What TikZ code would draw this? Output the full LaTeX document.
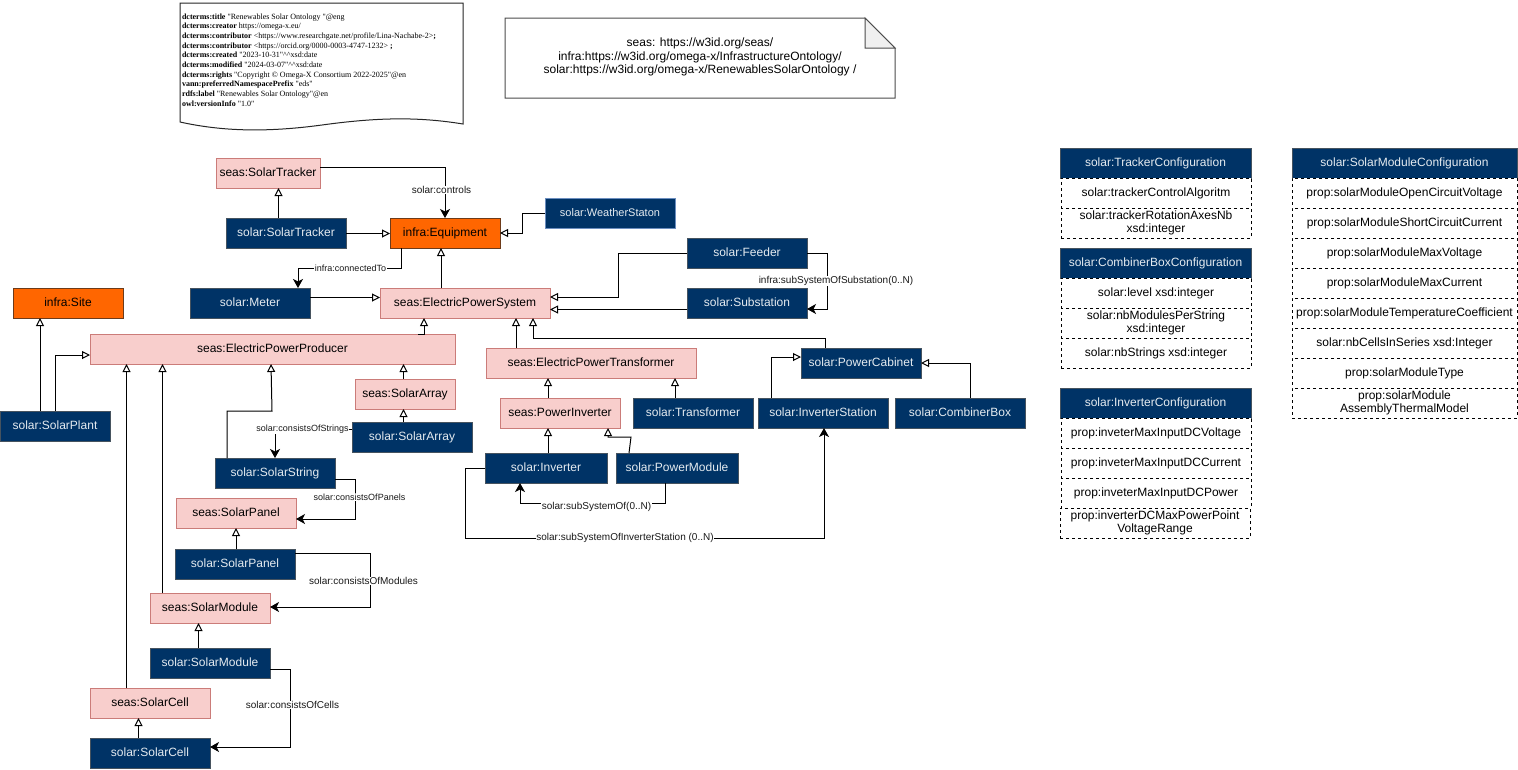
\documentclass[tikz,border=0pt]{standalone}
\usepackage{fontspec}
\setmainfont{Liberation Sans}
\newfontfamily\docfont{Liberation Serif}
\usetikzlibrary{arrows.meta}
\definecolor{navy}{HTML}{003366}
\definecolor{navyline}{HTML}{46535F}
\definecolor{pinkfill}{HTML}{F8CECC}
\definecolor{pinkline}{HTML}{CB7C79}
\definecolor{orangefill}{HTML}{FF6600}
\definecolor{orangeline}{HTML}{6D3B1A}
\definecolor{weatherline}{HTML}{6C8EBF}
\tikzset{
  x=1pt,y=-1pt,
  every node/.style={font=\fontsize{12}{13.5}\selectfont,inner sep=0pt,outer sep=0pt,align=center},
  bluebox/.style={draw=navyline,line width=1pt,fill=navy,text=white!90!navy,minimum width=120pt,minimum height=30pt,text height=10pt,text depth=3pt},
  pinkbox/.style={draw=pinkline,line width=1pt,fill=pinkfill,text=black,minimum width=120pt,minimum height=30pt,text height=10pt,text depth=3pt},
  orangebox/.style={draw=orangeline,line width=1pt,fill=orangefill,text=black,minimum height=30pt,text height=10pt,text depth=3pt},
  cellbox/.style={draw=black,line width=.8pt,fill=white,dash pattern=on 3pt off 3pt,minimum height=30pt},
  conn/.style={draw=black,line width=1pt},
  isa/.style={conn,-{Triangle[open,fill=white,length=8pt,width=8pt]}},
  rel/.style={conn,-{Stealth[length=9pt,width=10pt,inset=2.5pt]}},
  edgelabel/.style={font=\fontsize{10}{11}\selectfont,fill=white,text=black!90,inner xsep=.5pt,inner ysep=.5pt},
  smalllabel/.style={edgelabel,font=\fontsize{9}{10}\selectfont},
}
\begin{document}
\begin{tikzpicture}
\useasboundingbox (0,0) rectangle (1518,769);
% document shape
\draw[draw=black!85,line width=1pt,fill=white] (180,3) -- (463,3) -- (463,124)
  .. controls (420,117) and (380,117) .. (322,125)
  .. controls (270,132) and (225,132) .. (180,122) -- cycle;
\node[anchor=north west,font=\docfont\fontsize{8}{9.67}\selectfont,align=left,text=black] (docmeta) at (182,13.5) {%
\textbf{dcterms:title} "Renewables Solar Ontology "@eng\\
\textbf{dcterms:creator} https://omega-x.eu/\\
\textbf{dcterms:contributor} <https://www.researchgate.net/profile/Lina-Nachabe-2>\textbf{;}\\
\textbf{dcterms:contributor} <https://orcid.org/0000-0003-4747-1232> \textbf{;}\\
\textbf{dcterms:created} "2023-10-31"\^{}\^{}xsd:date\\
\textbf{dcterms:modified} "2024-03-07"\^{}\^{}xsd:date\\
\textbf{dcterms:rights} "Copyright © Omega-X Consortium 2022-2025"@en\\
\textbf{vann:preferredNamespacePrefix} "eds"\\
\textbf{rdfs:label} "Renewables Solar Ontology"@en\\
\textbf{owl:versionInfo} "1.0"};
% note shape
\draw[draw=black!70,line width=1pt,fill=white] (505,18) -- (865,18) -- (895,48) -- (895,98) -- (505,98) -- cycle;
\draw[draw=black!70,line width=1pt,fill=black!6] (865,18) -- (865,48) -- (895,48) -- cycle;
\node (prefixes) at (700,57) {seas: https://w3id.org/seas/\\infra:https://w3id.org/omega-x/InfrastructureOntology/\\solar:https://w3id.org/omega-x/RenewablesSolarOntology /};
% main nodes
\node[pinkbox,minimum width=104pt] (sTracker) at (268,173) {seas:SolarTracker};
\node[bluebox] (bTracker) at (286,233) {solar:SolarTracker};
\node[orangebox,minimum width=110pt] (equip) at (445,233) {infra:Equipment};
\node[bluebox,draw=weatherline,minimum width=130pt,font=\fontsize{11}{12}\selectfont] (weather) at (610,213) {solar:WeatherStaton};
\node[bluebox] (meter) at (250,303) {solar:Meter};
\node[pinkbox,minimum width=170pt] (eps) at (465,303) {seas:ElectricPowerSystem};
\node[bluebox] (feeder) at (747,253) {solar:Feeder};
\node[bluebox] (substation) at (747,303) {solar:Substation};
\node[orangebox,minimum width=110pt] (site) at (68,303) {infra:Site};
\node[pinkbox,minimum width=365pt] (epp) at (272.5,349) {seas:ElectricPowerProducer};
\node[bluebox,minimum width=110pt] (plant) at (55,426) {solar:SolarPlant};
\node[pinkbox,minimum width=100pt] (sArray) at (405,394) {seas:SolarArray};
\node[bluebox] (bArray) at (412,437) {solar:SolarArray};
\node[bluebox] (bString) at (275,473) {solar:SolarString};
\node[pinkbox] (sPanel) at (236,513) {seas:SolarPanel};
\node[bluebox] (bPanel) at (235,564) {solar:SolarPanel};
\node[pinkbox] (sModule) at (210,608) {seas:SolarModule};
\node[bluebox] (bModule) at (210,663) {solar:SolarModule};
\node[pinkbox] (sCell) at (150,703) {seas:SolarCell};
\node[bluebox] (bCell) at (150,753) {solar:SolarCell};
\node[pinkbox,minimum width=210pt] (ept) at (591,363) {seas:ElectricPowerTransformer};
\node[pinkbox] (sInverter) at (560,413) {seas:PowerInverter};
\node[bluebox] (transformer) at (693,413) {solar:Transformer};
\node[bluebox,minimum width=130pt] (station) at (823,413) {solar:InverterStation};
\node[bluebox,minimum width=130pt] (combiner) at (960,413) {solar:CombinerBox};
\node[bluebox] (cabinet) at (861,363) {solar:PowerCabinet};
\node[bluebox,minimum width=122pt] (bInverter) at (546,468) {solar:Inverter};
\node[bluebox,minimum width=122pt] (powermodule) at (677,468) {solar:PowerModule};
% generalisation connectors
\draw[isa] (bTracker.north -| 278.5,0) -- (sTracker.south -| 278.5,0);
\draw[isa] (bTracker.east |- 0,233.5) -- (equip.west |- 0,233.5);
\draw[isa] (weather.west) -- (522,213) -- (522,233) -- (equip.east);
\draw[isa] (eps.north -| 441,0) -- (equip.south -| 441,0);
\draw[isa] (meter.east |- 0,297.5) -- (eps.west |- 0,297.5);
\draw[isa] (feeder.west) -- (618.5,253) -- (618.5,297) -- (eps.east |- 0,297);
\draw[isa] (substation.west |- 0,309.5) -- (eps.east |- 0,309.5);
\draw[isa] (cabinet.north -| 825,0) -- (825,338) -- (533,338) -- (eps.south -| 533,0);
\draw[isa] (ept.north -| 516,0) -- (eps.south -| 516,0);
\draw[isa] (epp.north -| 418,0) -- (424,334) -- (eps.south -| 424,0);
\draw[isa] (plant.north -| 40,0) -- (site.south -| 40,0);
\draw[isa] (plant.north -| 55,0) -- (55,355) -- (epp.west |- 0,355);
\draw[isa] (sCell.north -| 126.5,0) -- (epp.south -| 126.5,0);
\draw[isa] (sModule.north -| 162.5,0) -- (epp.south -| 162.5,0);
\draw[isa] (bString.north -| 227,0) -- (227,411) -- (272,411) -- (epp.south -| 271,0);
\draw[isa] (sArray.north -| 403.5,0) -- (epp.south -| 403.5,0);
\draw[isa] (bArray.north -| 403.5,0) -- (sArray.south -| 403.5,0);
\draw[isa] (bPanel.north -| 236,0) -- (sPanel.south -| 236,0);
\draw[isa] (bModule.north -| 198.5,0) -- (sModule.south -| 198.5,0);
\draw[isa] (bCell.north -| 138.5,0) -- (sCell.south -| 138.5,0);
\draw[isa] (sInverter.north -| 548,0) -- (ept.south -| 548,0);
\draw[isa] (transformer.north -| 675,0) -- (ept.south -| 675,0);
\draw[isa] (bInverter.north -| 548,0) -- (sInverter.south -| 548,0);
\draw[isa] (powermodule.north -| 629,0) -- (631,437) -- (608,437) -- (sInverter.south -| 608,0);
\draw[isa] (station.north -| 771,0) -- (771,357) -- (cabinet.west |- 0,357);
\draw[isa] (combiner.north -| 970,0) -- (970,363) -- (cabinet.east);
% named relations
\draw[rel] (sTracker.east |- 0,167) -- (445,167) -- (equip.north);
\node[edgelabel] (lblControls) at (441.5,190) {solar:controls};
\draw[rel] (equip.south -| 401,0) -- (401,268) -- (298,268) -- (meter.north -| 298,0);
\node[smalllabel] (lblConnected) at (350.5,268) {infra:connectedTo};
\draw[rel] (feeder.east) -- (827,253) -- (827,309) -- (substation.east |- 0,309);
\node[edgelabel] (lblSubstation) at (836,281) {infra:subSystemOfSubstation(0..N)};
\draw[rel] (bArray.west |- 0,429) -- (275,429) -- (bString.north -| 275,0);
\node[smalllabel] (lblStrings) at (302.5,429) {solar:consistsOfStrings};
\draw[rel] (bString.east |- 0,479) -- (355,479) -- (355,519) -- (sPanel.east |- 0,519);
\node[smalllabel] (lblPanels) at (359.5,497) {solar:consistsOfPanels};
\draw[rel] (bPanel.east |- 0,553) -- (370,553) -- (370,607) -- (sModule.east |- 0,607);
\node[edgelabel] (lblModules) at (363.5,581) {solar:consistsOfModules};
\draw[rel] (bModule.east |- 0,669) -- (290,669) -- (290,747) -- (bCell.east |- 0,747);
\node[edgelabel] (lblCells) at (292.5,705) {solar:consistsOfCells};
\draw[rel] (powermodule.south -| 665,0) -- (665,503) -- (520,503) -- (bInverter.south -| 520,0);
\node[edgelabel] (lblSubsystem) at (596.5,507) {solar:subSystemOf(0..N)};
\draw[rel] (bInverter.west) -- (465,468) -- (465,538) -- (824,538) -- (station.south -| 824,0);
\node[edgelabel] (lblStation) at (625,538) {solar:subSystemOfInverterStation (0..N)};
% tables
\node[bluebox,minimum width=191pt] (hTracker) at (1155.5,163) {solar:TrackerConfiguration};
\node[cellbox,minimum width=190pt] (c1) at (1156,193) {solar:trackerControlAlgoritm};
\node[cellbox,minimum width=190pt] (c2) at (1156,223) {solar:trackerRotationAxesNb\\xsd:integer};
\node[bluebox,minimum width=191pt] (hCombiner) at (1155.5,263) {solar:CombinerBoxConfiguration};
\node[cellbox,minimum width=190pt] (c3) at (1156,293) {solar:level xsd:integer};
\node[cellbox,minimum width=190pt] (c4) at (1156,323) {solar:nbModulesPerString\\xsd:integer};
\node[cellbox,minimum width=190pt] (c5) at (1156,353) {solar:nbStrings xsd:integer};
\node[bluebox,minimum width=191pt] (hInverter) at (1155.5,403) {solar:InverterConfiguration};
\node[cellbox,minimum width=190pt] (c6) at (1156,433) {prop:inveterMaxInputDCVoltage};
\node[cellbox,minimum width=190pt] (c7) at (1156,463) {prop:inveterMaxInputDCCurrent};
\node[cellbox,minimum width=190pt] (c8) at (1156,493) {prop:inveterMaxInputDCPower};
\node[cellbox,minimum width=190pt] (c9) at (1155,523) {prop:inverterDCMaxPowerPoint\\VoltageRange};
\node[bluebox,minimum width=225pt] (hModule) at (1404.5,163) {solar:SolarModuleConfiguration};
\node[cellbox,minimum width=225pt] (m1) at (1404.5,193) {prop:solarModuleOpenCircuitVoltage};
\node[cellbox,minimum width=225pt] (m2) at (1404.5,223) {prop:solarModuleShortCircuitCurrent};
\node[cellbox,minimum width=225pt] (m3) at (1404.5,253) {prop:solarModuleMaxVoltage};
\node[cellbox,minimum width=225pt] (m4) at (1404.5,283) {prop:solarModuleMaxCurrent};
\node[cellbox,minimum width=225pt] (m5) at (1404.5,313) {prop:solarModuleTemperatureCoefficient};
\node[cellbox,minimum width=225pt] (m6) at (1404.5,343) {solar:nbCellsInSeries xsd:Integer};
\node[cellbox,minimum width=225pt] (m7) at (1404.5,373) {prop:solarModuleType};
\node[cellbox,minimum width=225pt] (m8) at (1404.5,403) {prop:solarModule\\AssemblyThermalModel};
\end{tikzpicture}
\end{document}
